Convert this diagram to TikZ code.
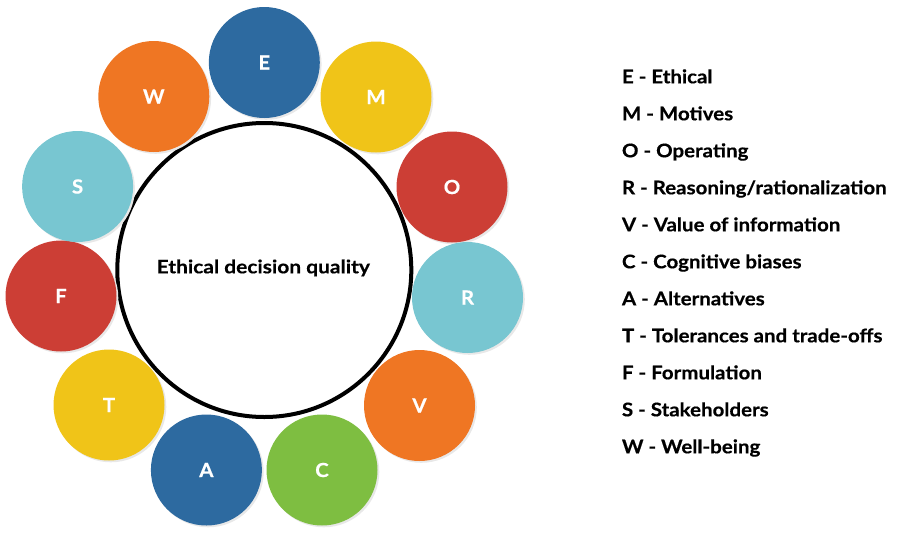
\documentclass[tikz,border=0pt]{standalone}
\usepackage{fontspec}
\setmainfont{Lato}
\newfontfamily\legfont{Lato}[FakeStretch=1.09, BoldFeatures={FakeBold=0.5}]
\newfontfamily\hubfont{Lato}[FakeStretch=1.13, BoldFeatures={FakeBold=0.5}]
\newfontfamily\ballfont{Lato}[FakeStretch=1.05, BoldFeatures={FakeBold=0.6}]
\definecolor{cblue}{RGB}{45,106,160}
\definecolor{corange}{RGB}{239,118,35}
\definecolor{cyellow}{RGB}{240,196,24}
\definecolor{cred}{RGB}{204,62,53}
\definecolor{cteal}{RGB}{120,198,209}
\definecolor{cgreen}{RGB}{126,190,65}
\begin{document}
\begin{tikzpicture}[x=0.75pt,y=-0.75pt,
  ball/.style={circle, fill=#1, minimum size=83.25pt, inner sep=0pt,
    text=white, font=\ballfont\bfseries\fontsize{14.6pt}{16pt}\selectfont},
  shade/.style={circle, fill=black!9, minimum size=83.25pt, inner sep=0pt},
  hub/.style={circle, draw=black, line width=3pt, fill=white, minimum size=220.5pt,
    inner sep=0pt},
  legend/.style={anchor=base west, inner sep=0pt,
    font=\legfont\bfseries\fontsize{14.1pt}{16pt}\selectfont},
  hubtext/.style={anchor=base, inner sep=0pt,
    font=\hubfont\bfseries\fontsize{13.9pt}{15pt}\selectfont}]
\useasboundingbox (0,0) rectangle (900,536);
% central circle
\node[hub] (hub) at (264.3,270) {};
\node[hubtext] (hubt) at (263.3,273.3) {Ethical decision quality};
% soft shadows
\foreach \p/\n in {{264.3,62.5}/e,{376,97}/m,{452,187}/o,{467.5,297.5}/r,{419.5,405.5}/v,
  {322,470}/c,{206.4,470}/a,{109,405}/t,{61,296}/f,{77.6,186.5}/s,{153.8,96.5}/w}
  \node[shade] (sh\n) at ([shift={(1.8,1.8)}]\p) {};
% outer circles
\node[ball=cblue]   (E) at (264.3,62.5)  {\raisebox{-1.1pt}{E}};
\node[ball=cyellow] (M) at (376,97)      {\raisebox{-1.1pt}{M}};
\node[ball=cred]    (O) at (452,187)     {\raisebox{-1.1pt}{O}};
\node[ball=cteal]   (R) at (467.5,297.5) {\raisebox{-1.1pt}{R}};
\node[ball=corange] (V) at (419.5,405.5) {\raisebox{-1.1pt}{V}};
\node[ball=cgreen]  (C) at (322,470)     {\raisebox{-1.1pt}{C}};
\node[ball=cblue]   (A) at (206.4,470)   {\raisebox{-1.1pt}{A}};
\node[ball=cyellow] (T) at (109,405)     {\raisebox{-1.1pt}{T}};
\node[ball=cred]    (F) at (61,296)      {\raisebox{-1.1pt}{F}};
\node[ball=cteal]   (S) at (77.6,186.5)  {\raisebox{-1.1pt}{S}};
\node[ball=corange] (W) at (153.8,96.5)  {\raisebox{-1.1pt}{W}};
% legend
\node[legend] (lE) at (621.7,83.3)  {E - Ethical};
\node[legend] (lM) at (621.7,120.3) {M - Motives};
\node[legend] (lO) at (621.7,157.3) {O - Operating};
\node[legend] (lR) at (621.7,194.3) {R - Reasoning/rationalization};
\node[legend] (lV) at (621.7,231.3) {V - Value of information};
\node[legend] (lC) at (621.7,268.3) {C - Cognitive biases};
\node[legend] (lA) at (621.7,305.3) {A - Alternatives};
\node[legend] (lT) at (621.7,342.3) {T - Tolerances and trade-offs};
\node[legend] (lF) at (621.7,379.3) {F - Formulation};
\node[legend] (lS) at (621.7,416.3) {S - Stakeholders};
\node[legend] (lW) at (621.7,453.3) {W - Well-being};
\end{tikzpicture}
\end{document}
